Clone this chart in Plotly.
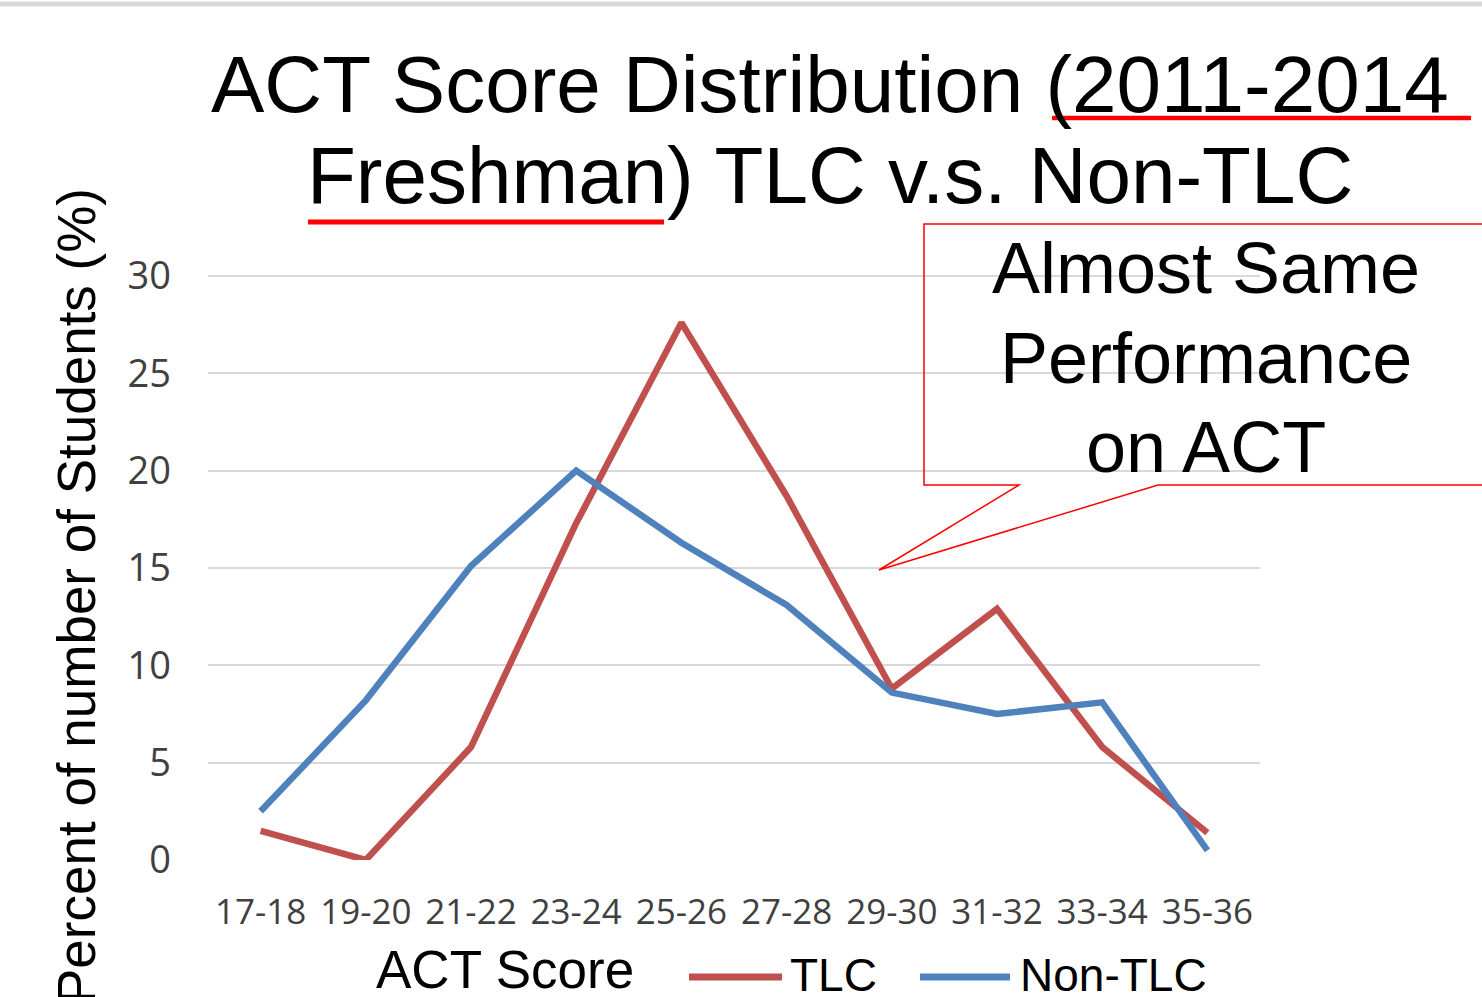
import plotly.graph_objects as go

# ---- data ----
categories = ["17-18", "19-20", "21-22", "23-24", "25-26",
              "27-28", "29-30", "31-32", "33-34", "35-36"]
tlc = [1.5, 0.0, 5.8, 17.3, 27.6, 18.7, 8.8, 12.9, 5.8, 1.4]
non_tlc = [2.5, 8.2, 15.1, 20.0, 16.3, 13.1, 8.6, 7.5, 8.1, 0.5]
y_ticks = [0, 5, 10, 15, 20, 25, 30]

series_names = ["TLC", "Non-TLC"]
series_colors = ["#C0504D", "#4F81BD"]

title_line1 = "ACT Score Distribution (2011-2014"
title_line2 = "Freshman) TLC v.s. Non-TLC"
y_title = "Percent of number of Students (%)"
x_title = "ACT Score"
callout_lines = ["Almost Same", "Performance", "on ACT"]

# ---- layout helpers (pixel -> paper) ----
W, H = 1482, 997
ML, MR, MT, MB = 208, 222, 270, 137
PW, PH = W - ML - MR, H - MT - MB
Y_TOP = 30 + 6 * 30 / 584.0  # a little headroom so the 30 gridline is drawn


def px(x):
    return (x - ML) / PW


def py(y):
    return (H - MB - y) / PH


ARIAL = "Liberation Sans, Arial, sans-serif"
TICKF = "Open Sans, Segoe UI, sans-serif"

fig = go.Figure()
for name, vals, col in zip(series_names, [tlc, non_tlc], series_colors):
    fig.add_trace(go.Scatter(
        x=categories, y=vals, mode="lines", name=name,
        line=dict(color=col, width=6.5), cliponaxis=False,
        showlegend=False,
    ))

annotations = []


def add_text(text, cx, baseline, size, anchor="center", angle=0, color="black"):
    center_y = baseline - 0.3465 * size
    annotations.append(dict(
        text=text, x=px(cx), y=py(center_y), xref="paper", yref="paper",
        xanchor=anchor, yanchor="middle", showarrow=False, textangle=angle,
        font=dict(family=ARIAL, size=size, color=color),
    ))


# title lines
add_text(title_line1, 830, 112, 80)
add_text(title_line2, 830, 203, 80)

# x-axis title
add_text(x_title, 505, 988, 53)

# callout text
for line, bl in zip(callout_lines, [293, 383, 472]):
    add_text(line, 1206, bl, 72)

# y-axis title (rotated)
annotations.append(dict(
    text=y_title, x=px(76), y=py(596), xref="paper", yref="paper",
    xanchor="center", yanchor="middle", showarrow=False, textangle=-90,
    font=dict(family=ARIAL, size=53, color="black"),
))

# custom legend text
legend_text_x = [788, 1018]
for name, tx in zip(series_names, legend_text_x):
    center_y = 991 - 0.3465 * 46
    annotations.append(dict(
        text=name, x=px(tx), y=py(center_y), xref="paper", yref="paper",
        xanchor="left", yanchor="middle", showarrow=False,
        font=dict(family=ARIAL, size=46, color="black"),
    ))

shapes = []
# top gray strip
shapes.append(dict(type="line", xref="paper", yref="paper",
                   x0=px(0), x1=px(W), y0=py(4), y1=py(4),
                   line=dict(color="#DADADA", width=5)))
# red underlines in title
shapes.append(dict(type="line", xref="paper", yref="paper",
                   x0=px(1052), x1=px(1471), y0=py(118), y1=py(118),
                   line=dict(color="#FF0000", width=4.5)))
shapes.append(dict(type="line", xref="paper", yref="paper",
                   x0=px(308), x1=px(664), y0=py(222), y1=py(222),
                   line=dict(color="#FF0000", width=5)))
# callout box
pts = [(924, 224), (1495, 224), (1495, 485), (1158, 485), (879, 570),
       (1019, 485), (924, 485)]
path = "M " + " L ".join(f"{px(a):.5f},{py(b):.5f}" for a, b in pts) + " Z"
shapes.append(dict(type="path", xref="paper", yref="paper", path=path,
                   line=dict(color="#FF0000", width=1.5),
                   fillcolor="rgba(0,0,0,0)"))
# custom legend lines
for col, (a, b) in zip(series_colors, [(689, 782), (920, 1010)]):
    shapes.append(dict(type="line", xref="paper", yref="paper",
                       x0=px(a), x1=px(b), y0=py(977), y1=py(977),
                       line=dict(color=col, width=7)))

fig.update_layout(
    width=W, height=H,
    margin=dict(l=ML, r=MR, t=MT, b=MB, pad=0),
    paper_bgcolor="white", plot_bgcolor="white",
    showlegend=False,
    annotations=annotations, shapes=shapes,
    xaxis=dict(
        type="category", range=[-0.5, 9.5], showgrid=False, showline=False,
        zeroline=False, ticks="", ticklabelstandoff=28,
        tickfont=dict(family=TICKF, size=35, color="#404040"),
    ),
    yaxis=dict(
        range=[0, Y_TOP], tickvals=y_ticks, showgrid=True, gridcolor="#D9D9D9",
        gridwidth=1.5, zeroline=False, showline=False, ticks="",
        ticklabelstandoff=36,
        tickfont=dict(family=TICKF, size=38, color="#404040"),
    ),
)

fig.write_html(
    "out.html",
    config={"displayModeBar": False},
    post_script="document.body.style.margin='0';document.body.style.overflow='hidden';",
)
